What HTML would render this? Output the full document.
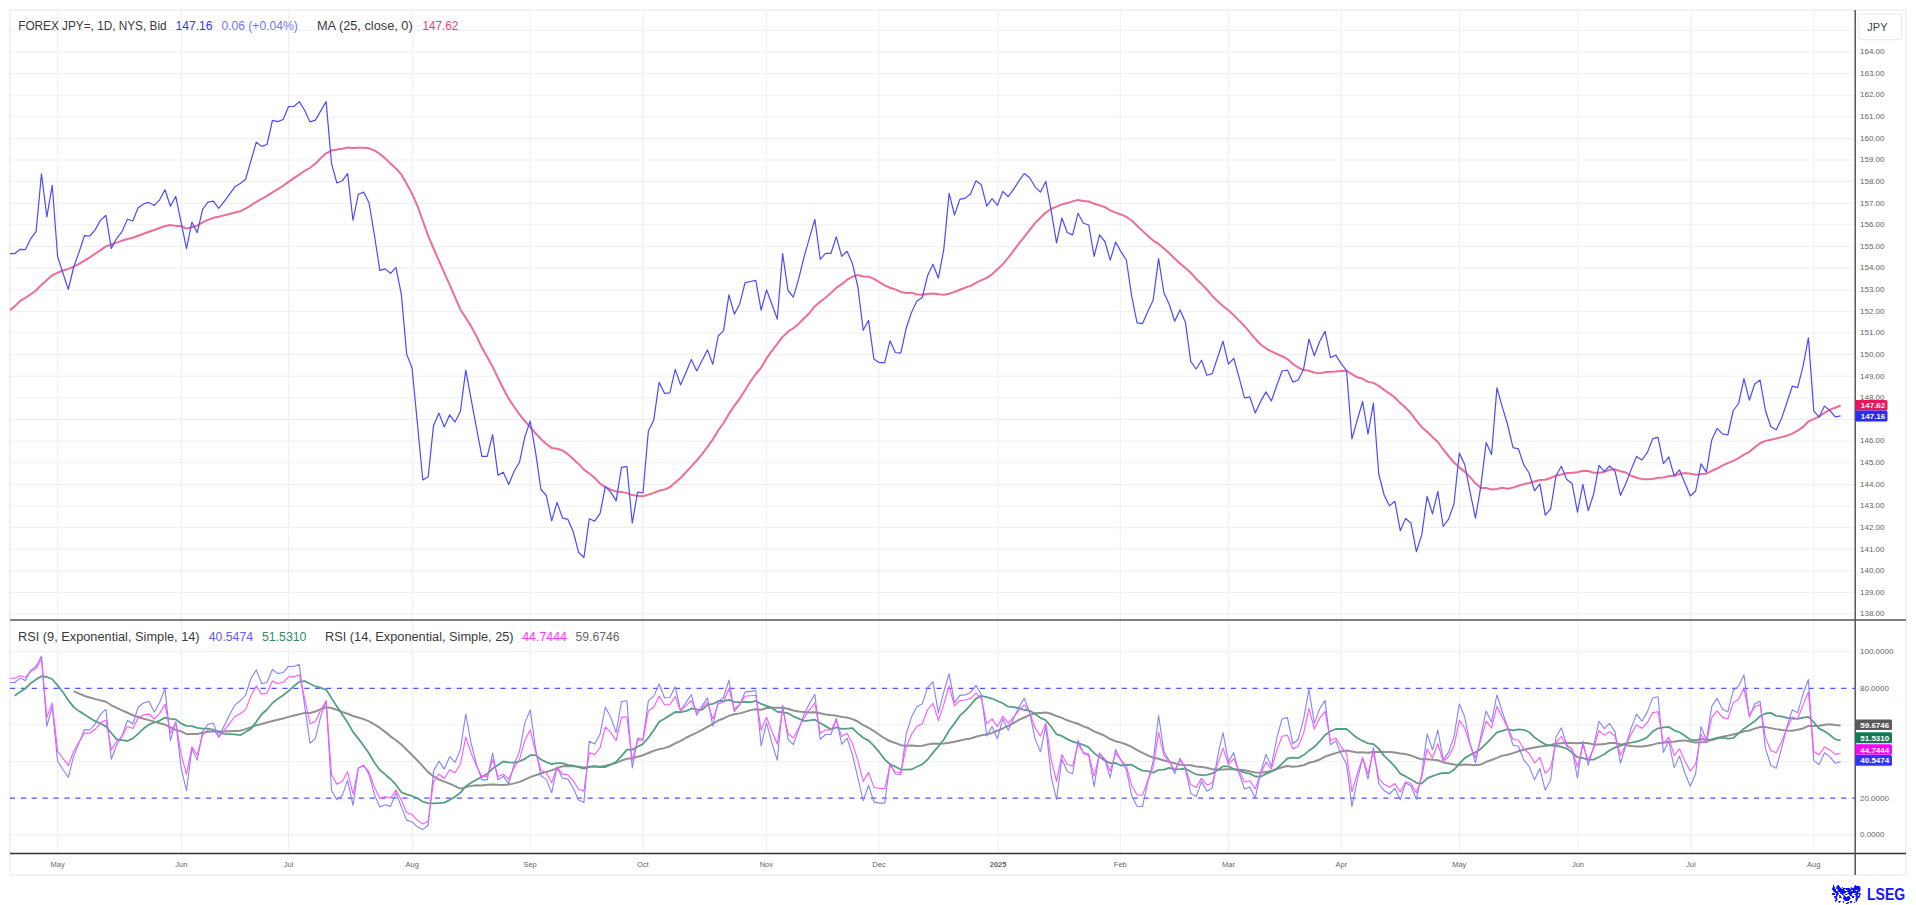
<!DOCTYPE html>
<html><head><meta charset="utf-8"><style>html,body{margin:0;padding:0;background:#fff;width:1916px;height:905px;overflow:hidden;position:relative}</style></head>
<body><svg width="1916" height="905" viewBox="0 0 1916 905" style="position:absolute;left:0;top:0"><rect x="10.1" y="10.1" width="1896" height="864.7" fill="none" stroke="#f1f1f1" stroke-width="1.8"/><defs><clipPath id="cp"><rect x="10" y="10" width="1845" height="843.5"/></clipPath></defs><path d="M10 614.1H1855 M10 592.5H1855 M10 570.9H1855 M10 549.2H1855 M10 527.6H1855 M10 506.0H1855 M10 484.4H1855 M10 462.7H1855 M10 441.1H1855 M10 419.5H1855 M10 397.9H1855 M10 376.2H1855 M10 354.6H1855 M10 333.0H1855 M10 311.4H1855 M10 289.8H1855 M10 268.1H1855 M10 246.5H1855 M10 224.9H1855 M10 203.3H1855 M10 181.6H1855 M10 160.0H1855 M10 138.4H1855 M10 116.8H1855 M10 95.1H1855 M10 73.5H1855 M10 51.9H1855 M10 30.3H1855 M10 651.7H1855 M10 688.3H1855 M10 724.9H1855 M10 761.6H1855 M10 798.2H1855 M10 834.8H1855 M57.6 10V853.5 M181.4 10V853.5 M288.6 10V853.5 M412.3 10V853.5 M530.1 10V853.5 M642.8 10V853.5 M766.3 10V853.5 M879.0 10V853.5 M998.1 10V853.5 M1120.3 10V853.5 M1228.5 10V853.5 M1341.3 10V853.5 M1459.3 10V853.5 M1578.0 10V853.5 M1690.8 10V853.5 M1813.8 10V853.5" stroke="#efefef" stroke-width="1" fill="none"/><path d="M10 688.3H1855" stroke="#5252ff" stroke-width="1.3" stroke-dasharray="5 5.9" fill="none"/><path d="M10 798.2H1855" stroke="#5252ff" stroke-width="1.3" stroke-dasharray="5 5.9" fill="none"/><g clip-path="url(#cp)"><polyline points="9.26,310.70 14.63,306.37 20.00,301.18 25.37,297.73 30.74,294.24 36.11,290.45 41.48,284.77 46.85,279.94 52.22,275.29 57.60,272.72 62.97,270.51 68.34,268.91 73.71,266.72 79.08,263.93 84.45,260.69 89.82,257.34 95.19,253.72 100.56,250.08 105.93,246.42 111.30,244.46 116.67,242.59 122.04,240.67 127.41,239.07 132.78,237.79 138.15,235.72 143.52,233.74 148.90,231.71 154.27,229.95 159.64,227.96 165.01,226.00 170.38,224.98 175.75,225.88 181.12,226.11 186.49,228.64 191.86,227.26 197.23,225.64 202.60,222.44 207.97,219.85 213.34,217.81 218.71,216.72 224.08,215.35 229.45,213.93 234.83,212.59 240.20,211.32 245.57,208.55 250.94,205.45 256.31,201.87 261.68,198.96 267.05,195.90 272.42,192.41 277.79,189.12 283.16,185.80 288.53,181.85 293.90,178.11 299.27,174.59 304.64,170.75 310.01,167.77 315.38,163.68 320.75,158.17 326.13,153.36 331.50,150.58 336.87,149.53 342.24,148.67 347.61,147.57 352.98,148.04 358.35,147.75 363.72,147.66 369.09,148.31 374.46,150.39 379.83,154.03 385.20,158.36 390.57,163.60 395.94,168.44 401.31,174.42 406.68,183.77 412.05,193.63 417.43,205.80 422.80,220.74 428.17,235.54 433.54,248.50 438.91,260.61 444.28,272.81 449.65,284.60 455.02,297.05 460.39,309.44 465.76,317.72 471.13,326.38 476.50,336.27 481.87,347.58 487.24,357.03 492.61,366.64 497.98,377.96 503.36,388.74 508.73,398.69 514.10,406.73 519.47,414.46 524.84,421.01 530.21,427.16 535.58,433.49 540.95,438.90 546.32,444.00 551.69,447.89 557.06,448.78 562.43,450.43 567.80,454.18 573.17,458.92 578.54,463.93 583.91,469.64 589.28,473.50 594.66,477.89 600.03,483.63 605.40,487.11 610.77,489.67 616.14,491.45 621.51,491.89 626.88,493.15 632.25,495.07 637.62,495.86 642.99,496.21 648.36,494.60 653.73,492.92 659.10,490.74 664.47,489.63 669.84,487.25 675.21,482.44 680.58,478.02 685.96,472.08 691.33,466.36 696.70,460.49 702.07,454.14 707.44,446.87 712.81,439.36 718.18,430.50 723.55,422.97 728.92,413.92 734.29,405.93 739.66,398.64 745.03,390.28 750.40,381.50 755.77,374.02 761.14,367.77 766.51,358.44 771.89,350.92 777.26,343.97 782.63,336.88 788.00,331.68 793.37,328.28 798.74,323.69 804.11,318.24 809.48,312.98 814.85,306.35 820.22,301.83 825.59,297.58 830.96,292.88 836.33,287.93 841.70,284.19 847.07,279.66 852.44,276.77 857.81,275.00 863.19,276.42 868.56,276.67 873.93,278.87 879.30,282.06 884.67,285.31 890.04,287.73 895.41,289.42 900.78,291.96 906.15,292.92 911.52,292.65 916.89,294.54 922.26,294.82 927.63,293.96 933.00,293.39 938.37,294.25 943.74,294.72 949.11,293.69 954.49,291.92 959.86,289.76 965.23,287.55 970.60,285.83 975.97,282.81 981.34,280.15 986.71,277.85 992.08,274.34 997.45,269.34 1002.82,264.18 1008.19,257.68 1013.56,250.75 1018.93,243.48 1024.30,236.78 1029.67,229.80 1035.04,223.14 1040.42,217.70 1045.79,212.46 1051.16,208.85 1056.53,206.66 1061.90,204.36 1067.27,203.09 1072.64,201.36 1078.01,199.90 1083.38,201.09 1088.75,201.49 1094.12,203.78 1099.49,205.25 1104.86,207.16 1110.23,210.33 1115.60,212.62 1120.97,214.45 1126.34,216.90 1131.72,220.54 1137.09,225.80 1142.46,230.88 1147.83,235.77 1153.20,240.54 1158.57,243.94 1163.94,248.55 1169.31,253.25 1174.68,258.42 1180.05,263.56 1185.42,268.02 1190.79,272.77 1196.16,278.81 1201.53,283.92 1206.90,289.53 1212.27,295.95 1217.64,301.31 1223.02,305.96 1228.39,310.27 1233.76,315.21 1239.13,320.65 1244.50,326.16 1249.87,332.35 1255.24,338.80 1260.61,344.46 1265.98,348.28 1271.35,351.40 1276.72,353.88 1282.09,356.26 1287.46,359.06 1292.83,364.00 1298.20,367.48 1303.57,370.07 1308.95,370.78 1314.32,372.62 1319.69,373.37 1325.06,372.16 1330.43,371.71 1335.80,371.50 1341.17,371.04 1346.54,370.92 1351.91,374.18 1357.28,377.33 1362.65,378.82 1368.02,381.86 1373.39,382.88 1378.76,385.92 1384.13,389.85 1389.50,393.56 1394.87,397.56 1400.25,403.11 1405.62,407.81 1410.99,413.32 1416.36,420.55 1421.73,427.15 1427.10,431.72 1432.47,437.08 1437.84,441.96 1443.21,449.46 1448.58,455.99 1453.95,462.50 1459.32,467.37 1464.69,471.64 1470.06,477.11 1475.43,483.29 1480.80,487.93 1486.17,488.08 1491.55,489.45 1496.92,488.91 1502.29,487.82 1507.66,488.69 1513.03,487.64 1518.40,485.79 1523.77,484.15 1529.14,483.02 1534.51,481.42 1539.88,480.04 1545.25,479.71 1550.62,478.00 1555.99,475.64 1561.36,474.43 1566.73,473.06 1572.10,472.74 1577.48,472.17 1582.85,470.78 1588.22,471.04 1593.59,472.69 1598.96,472.72 1604.33,471.91 1609.70,469.82 1615.07,469.22 1620.44,471.33 1625.81,472.50 1631.18,475.76 1636.55,477.75 1641.92,479.15 1647.29,479.34 1652.66,478.94 1658.03,477.84 1663.40,477.47 1668.78,476.11 1674.15,475.79 1679.52,473.98 1684.89,472.94 1690.26,473.75 1695.63,474.74 1701.00,474.11 1706.37,473.65 1711.74,470.76 1717.11,468.53 1722.48,465.46 1727.85,463.08 1733.22,460.89 1738.59,458.18 1743.96,454.68 1749.33,451.84 1754.70,447.38 1760.08,443.24 1765.45,440.88 1770.82,439.70 1776.19,438.49 1781.56,437.12 1786.93,435.67 1792.30,433.62 1797.67,430.58 1803.04,426.95 1808.41,421.43 1813.78,419.07 1819.15,416.43 1824.52,412.84 1829.89,409.62 1835.26,407.74 1840.63,405.49" fill="none" stroke="#ee6d98" stroke-width="2" stroke-linejoin="round"/><polyline points="9.26,253.70 14.63,253.70 20.00,249.30 25.37,249.70 30.74,238.70 36.11,231.60 41.48,173.80 46.85,216.90 52.22,185.30 57.60,256.40 62.97,273.20 68.34,289.40 73.71,267.00 79.08,252.00 84.45,235.70 89.82,236.00 95.19,229.80 100.56,220.10 105.93,215.30 111.30,248.40 116.67,238.30 122.04,231.60 127.41,219.20 132.78,221.00 138.15,207.70 143.52,203.90 148.90,202.40 154.27,205.40 159.64,199.80 165.01,189.70 170.38,206.30 175.75,196.30 181.12,222.45 186.49,248.60 191.86,222.00 197.23,232.70 202.60,209.30 207.97,202.20 213.34,201.20 218.71,208.40 224.08,201.60 229.45,194.30 234.83,186.80 240.20,183.40 245.57,179.30 250.94,160.70 256.31,142.20 261.68,146.40 267.05,144.50 272.42,120.40 277.79,121.60 283.16,119.50 288.53,106.50 293.90,106.50 299.27,101.60 304.64,110.30 310.01,121.90 315.38,120.10 320.75,110.90 326.13,101.60 331.50,163.30 336.87,183.00 342.24,180.80 347.61,173.60 352.98,220.20 358.35,194.30 363.72,192.10 369.09,203.00 374.46,235.50 379.83,270.30 385.20,268.90 390.57,273.30 395.94,267.30 401.31,294.10 406.68,354.10 412.05,368.00 417.43,423.70 422.80,480.00 428.17,476.70 433.54,425.40 438.91,413.10 444.28,427.00 449.65,414.80 455.02,422.10 460.39,411.50 465.76,370.20 471.13,399.40 476.50,428.10 481.87,456.40 487.24,456.40 492.61,434.70 497.98,475.10 503.36,472.30 508.73,484.40 514.10,471.20 519.47,462.30 524.84,436.90 530.21,421.00 535.58,452.40 540.95,489.50 546.32,495.50 551.69,520.80 557.06,502.40 562.43,517.80 567.80,519.30 573.17,531.50 578.54,552.20 583.91,557.50 589.28,518.80 594.66,521.20 600.03,513.70 605.40,486.40 610.77,492.10 616.14,500.90 621.51,467.30 626.88,466.30 632.25,523.10 637.62,492.10 642.99,493.00 648.36,431.00 653.73,420.30 659.10,382.30 664.47,393.30 669.84,392.90 675.21,369.40 680.58,384.90 685.96,372.40 691.33,359.40 696.70,371.00 702.07,360.40 707.44,349.90 712.81,364.40 718.18,336.00 723.55,330.60 728.92,294.80 734.29,314.10 739.66,304.20 745.03,282.90 750.40,281.50 755.77,280.30 761.14,310.10 766.51,289.80 771.89,304.20 777.26,319.10 782.63,253.70 788.00,290.50 793.37,297.10 798.74,278.60 804.11,256.70 809.48,237.80 814.85,219.30 820.22,259.30 825.59,253.30 830.96,253.30 836.33,236.80 841.70,256.30 847.07,251.30 852.44,263.60 857.81,286.50 863.19,330.30 868.56,320.30 873.93,359.10 879.30,362.70 884.67,362.70 890.04,340.80 895.41,352.50 900.78,353.10 906.15,328.30 911.52,312.40 916.89,301.00 922.26,297.50 927.63,275.60 933.00,264.20 938.37,278.20 943.74,249.70 949.11,193.40 954.49,215.00 959.86,199.30 965.23,198.10 970.60,193.80 975.97,180.80 981.34,184.80 986.71,206.10 992.08,198.70 997.45,205.30 1002.82,191.40 1008.19,196.70 1013.56,189.40 1018.93,180.80 1024.30,173.50 1029.67,177.80 1035.04,186.80 1040.42,192.20 1045.79,181.40 1051.16,210.70 1056.53,242.90 1061.90,218.00 1067.27,232.50 1072.64,234.90 1078.01,213.20 1083.38,223.20 1088.75,225.00 1094.12,256.40 1099.49,234.90 1104.86,241.50 1110.23,260.20 1115.60,242.10 1120.97,251.70 1126.34,260.00 1131.72,296.40 1137.09,322.90 1142.46,323.70 1147.83,311.50 1153.20,300.00 1158.57,258.60 1163.94,293.00 1169.31,304.40 1174.68,321.30 1180.05,309.90 1185.42,322.30 1190.79,361.60 1196.16,369.00 1201.53,360.30 1206.90,375.20 1212.27,373.60 1217.64,357.30 1223.02,341.20 1228.39,364.20 1233.76,358.30 1239.13,377.60 1244.50,397.90 1249.87,396.90 1255.24,413.00 1260.61,401.40 1265.98,391.90 1271.35,401.00 1276.72,385.50 1282.09,371.00 1287.46,370.00 1292.83,382.10 1298.20,380.00 1303.57,369.20 1308.95,339.20 1314.32,355.70 1319.69,341.20 1325.06,331.40 1330.43,357.70 1335.80,355.10 1341.17,363.60 1346.54,370.60 1351.91,438.80 1357.28,420.00 1362.65,401.50 1368.02,434.10 1373.39,403.20 1378.76,474.00 1384.13,495.00 1389.50,505.90 1394.87,501.30 1400.25,530.70 1405.62,518.50 1410.99,523.30 1416.36,551.70 1421.73,534.90 1427.10,496.40 1432.47,513.90 1437.84,491.40 1443.21,526.50 1448.58,519.10 1453.95,504.00 1459.32,453.00 1464.69,464.50 1470.06,491.80 1475.43,518.10 1480.80,486.60 1486.17,442.50 1491.55,454.40 1496.92,387.90 1502.29,406.80 1507.66,425.00 1513.03,447.70 1518.40,448.80 1523.77,464.90 1529.14,473.00 1534.51,490.90 1539.88,483.80 1545.25,515.20 1550.62,509.00 1555.99,475.80 1561.36,466.20 1566.73,479.60 1572.10,483.50 1577.48,512.10 1582.85,484.30 1588.22,510.60 1593.59,494.30 1598.96,465.30 1604.33,471.40 1609.70,466.00 1615.07,471.40 1620.44,495.40 1625.81,483.50 1631.18,469.60 1636.55,456.40 1641.92,460.00 1647.29,452.60 1652.66,438.70 1658.03,437.40 1663.40,463.70 1668.78,456.90 1674.15,475.80 1679.52,469.90 1684.89,483.10 1690.26,496.00 1695.63,491.00 1701.00,463.80 1706.37,472.10 1711.74,439.90 1717.11,428.40 1722.48,433.80 1727.85,435.00 1733.22,410.50 1738.59,403.50 1743.96,378.70 1749.33,400.20 1754.70,384.00 1760.08,380.10 1765.45,410.50 1770.82,426.80 1776.19,429.80 1781.56,418.40 1786.93,402.50 1792.30,386.20 1797.67,387.60 1803.04,366.10 1808.41,337.90 1813.78,410.90 1819.15,417.10 1824.52,406.10 1829.89,410.50 1835.26,416.90 1840.63,415.90" fill="none" stroke="#4b4bff" stroke-width="1.2" stroke-linejoin="round"/><polyline points="73.71,691.11 79.08,693.58 84.45,695.93 89.82,697.55 95.19,699.11 100.56,700.38 105.93,701.75 111.30,705.29 116.67,707.80 122.04,710.30 127.41,712.78 132.78,715.25 138.15,717.04 143.52,718.77 148.90,720.11 154.27,721.66 159.64,723.18 165.01,724.65 170.38,727.35 175.75,729.89 181.12,731.37 186.49,734.23 191.86,734.06 197.23,733.92 202.60,732.71 207.97,731.86 213.34,731.34 218.71,731.51 224.08,731.40 229.45,731.18 234.83,730.93 240.20,730.68 245.57,729.09 250.94,727.25 256.31,725.25 261.68,723.96 267.05,722.53 272.42,721.06 277.79,719.80 283.16,718.55 288.53,716.86 293.90,715.41 299.27,714.23 304.64,712.85 310.01,712.91 315.38,711.59 320.75,709.03 326.13,707.21 331.50,707.97 336.87,709.93 342.24,712.00 347.61,713.71 352.98,715.99 358.35,717.47 363.72,719.16 369.09,721.37 374.46,724.31 379.83,727.85 385.20,731.89 390.57,736.37 395.94,740.20 401.31,744.48 406.68,749.74 412.05,754.98 417.43,760.49 422.80,766.38 428.17,772.15 433.54,776.44 438.91,779.46 444.28,781.65 449.65,783.58 455.02,786.08 460.39,788.60 465.76,787.12 471.13,785.88 476.50,785.26 481.87,785.44 487.24,784.73 492.61,784.41 497.98,784.84 503.36,784.93 508.73,784.60 514.10,783.37 519.47,781.89 524.84,779.58 530.21,777.18 535.58,775.26 540.95,773.56 546.32,771.89 551.69,770.38 557.06,768.10 562.43,766.22 567.80,765.94 573.17,766.20 578.54,766.63 583.91,767.50 589.28,766.70 594.66,766.31 600.03,766.74 605.40,765.70 610.77,764.36 616.14,762.93 621.51,760.57 626.88,758.85 632.25,758.21 637.62,756.83 642.99,755.28 648.36,753.02 653.73,750.92 659.10,749.15 664.47,748.14 669.84,746.25 675.21,743.31 680.58,740.84 685.96,737.76 691.33,735.10 696.70,732.64 702.07,729.94 707.44,726.80 712.81,723.99 718.18,720.50 723.55,718.45 728.92,715.82 734.29,714.27 739.66,713.37 745.03,711.92 750.40,710.12 755.77,709.24 761.14,709.77 766.51,708.05 771.89,707.70 777.26,707.85 782.63,707.75 788.00,708.81 793.37,710.48 798.74,711.41 804.11,711.93 809.48,712.47 814.85,712.15 820.22,713.24 825.59,714.41 830.96,715.10 836.33,715.63 841.70,717.00 847.07,717.57 852.44,719.15 857.81,721.50 863.19,725.21 868.56,727.74 873.93,731.05 879.30,734.74 884.67,738.45 890.04,741.26 895.41,742.94 900.78,745.14 906.15,745.78 911.52,745.40 916.89,746.11 922.26,745.71 927.63,744.58 933.00,743.59 938.37,743.71 943.74,743.49 949.11,742.81 954.49,741.73 959.86,740.55 965.23,739.36 970.60,738.47 975.97,736.74 981.34,735.35 986.71,734.56 992.08,732.91 997.45,730.71 1002.82,728.47 1008.19,725.90 1013.56,723.04 1018.93,719.91 1024.30,717.49 1029.67,715.11 1035.04,713.33 1040.42,712.88 1045.79,712.43 1051.16,713.76 1056.53,716.07 1061.90,717.88 1067.27,720.32 1072.64,722.14 1078.01,723.73 1083.38,726.39 1088.75,728.31 1094.12,731.34 1099.49,733.50 1104.86,735.92 1110.23,739.04 1115.60,741.22 1120.97,742.65 1126.34,744.53 1131.72,746.88 1137.09,750.04 1142.46,752.93 1147.83,755.45 1153.20,757.72 1158.57,758.82 1163.94,760.53 1169.31,761.88 1174.68,763.24 1180.05,764.73 1185.42,765.04 1190.79,765.18 1196.16,766.49 1201.53,767.05 1206.90,767.81 1212.27,769.37 1217.64,769.83 1223.02,769.60 1228.39,769.13 1233.76,769.31 1239.13,769.81 1244.50,770.24 1249.87,771.36 1255.24,772.52 1260.61,772.83 1265.98,771.89 1271.35,770.85 1276.72,769.06 1282.09,767.31 1287.46,766.04 1292.83,766.70 1298.20,766.34 1303.57,765.22 1308.95,762.75 1314.32,761.50 1319.69,759.53 1325.06,756.59 1330.43,754.71 1335.80,753.10 1341.17,751.57 1346.54,750.40 1351.91,751.50 1357.28,752.52 1362.65,752.25 1368.02,752.86 1373.39,752.06 1378.76,751.93 1384.13,752.07 1389.50,752.01 1394.87,752.40 1400.25,753.60 1405.62,754.11 1410.99,755.43 1416.36,757.68 1421.73,759.36 1427.10,759.36 1432.47,759.83 1437.84,760.24 1443.21,762.36 1448.58,763.46 1453.95,764.59 1459.32,764.95 1464.69,764.45 1470.06,764.71 1475.43,765.15 1480.80,764.59 1486.17,761.76 1491.55,759.95 1496.92,757.88 1502.29,755.62 1507.66,754.67 1513.03,753.10 1518.40,751.33 1523.77,749.80 1529.14,748.60 1534.51,747.44 1539.88,746.46 1545.25,746.06 1550.62,745.07 1555.99,743.68 1561.36,743.19 1566.73,742.71 1572.10,742.92 1577.48,743.15 1582.85,742.69 1588.22,743.26 1593.59,744.39 1598.96,744.49 1604.33,744.12 1609.70,743.07 1615.07,742.93 1620.44,744.30 1625.81,744.98 1631.18,746.09 1636.55,746.39 1641.92,746.42 1647.29,745.75 1652.66,744.65 1658.03,743.16 1663.40,742.77 1668.78,741.73 1674.15,741.65 1679.52,740.66 1684.89,740.38 1690.26,741.52 1695.63,742.62 1701.00,742.14 1706.37,741.90 1711.74,739.92 1717.11,738.55 1722.48,736.82 1727.85,735.64 1733.22,734.53 1738.59,733.09 1743.96,731.36 1749.33,730.53 1754.70,728.59 1760.08,726.97 1765.45,727.11 1770.82,728.14 1776.19,729.12 1781.56,729.89 1786.93,730.52 1792.30,730.73 1797.67,729.73 1803.04,728.44 1808.41,725.92 1813.78,726.02 1819.15,725.77 1824.52,724.82 1829.89,724.25 1835.26,725.06 1840.63,725.48" fill="none" stroke="#919191" stroke-width="2" stroke-linejoin="round"/><polyline points="14.63,695.64 20.00,692.06 25.37,688.51 30.74,683.16 36.11,679.39 41.48,676.15 46.85,676.99 52.22,679.25 57.60,685.42 62.97,692.29 68.34,700.37 73.71,707.12 79.08,711.13 84.45,714.50 89.82,717.90 95.19,721.16 100.56,723.56 105.93,726.34 111.30,732.98 116.67,739.33 122.04,740.02 127.41,741.00 132.78,738.34 138.15,733.90 143.52,728.60 148.90,724.69 154.27,722.51 159.64,720.57 165.01,717.63 170.38,718.83 175.75,719.39 181.12,723.57 186.49,725.81 191.86,726.08 197.23,727.81 202.60,728.62 207.97,728.63 213.34,729.76 218.71,732.18 224.08,733.96 229.45,734.17 234.83,734.36 240.20,735.20 245.57,731.96 250.94,728.86 256.31,721.85 261.68,714.22 267.05,709.46 272.42,702.99 277.79,698.86 283.16,695.16 288.53,691.12 293.90,686.09 299.27,681.68 304.64,681.02 310.01,683.74 315.38,686.44 320.75,687.94 326.13,689.53 331.50,698.13 336.87,706.42 342.24,714.50 347.61,722.42 352.98,731.83 358.35,738.67 363.72,745.72 369.09,753.45 374.46,762.76 379.83,769.98 385.20,774.37 390.57,779.23 395.94,784.68 401.31,792.25 406.68,794.38 412.05,795.97 417.43,798.21 422.80,801.71 428.17,803.14 433.54,803.36 438.91,803.06 444.28,802.67 449.65,799.96 455.02,796.77 460.39,792.82 465.76,786.22 471.13,782.69 476.50,779.67 481.87,776.79 487.24,773.79 492.61,768.53 497.98,764.99 503.36,761.49 508.73,762.38 514.10,762.59 519.47,761.32 524.84,758.91 530.21,755.15 535.58,755.10 540.95,759.52 546.32,762.09 551.69,764.11 557.06,763.22 562.43,763.09 567.80,764.95 573.17,765.54 578.54,767.23 583.91,768.56 589.28,766.93 594.66,766.40 600.03,767.21 605.40,767.02 610.77,764.77 616.14,761.69 621.51,756.12 626.88,749.56 632.25,749.59 637.62,746.76 642.99,743.91 648.36,737.66 653.73,730.26 659.10,721.78 664.47,718.68 669.84,715.37 675.21,711.99 680.58,712.24 685.96,711.18 691.33,708.46 696.70,709.45 702.07,709.83 707.44,704.82 712.81,703.95 718.18,701.24 723.55,701.01 728.92,699.85 734.29,701.83 739.66,702.33 745.03,701.94 750.40,702.26 755.77,700.83 761.14,703.93 766.51,705.93 771.89,707.91 777.26,711.77 782.63,712.28 788.00,713.21 793.37,716.31 798.74,718.59 804.11,721.02 809.48,720.44 814.85,719.69 820.22,723.08 825.59,726.15 830.96,729.29 836.33,727.31 841.70,728.87 847.07,728.54 852.44,728.15 857.81,733.33 863.19,737.73 868.56,740.64 873.93,745.82 879.30,752.17 884.67,759.29 890.04,764.22 895.41,766.69 900.78,769.56 906.15,769.55 911.52,769.46 916.89,766.78 922.26,764.31 927.63,759.52 933.00,752.67 938.37,746.39 943.74,739.73 949.11,730.56 954.49,723.38 959.86,715.69 965.23,710.79 970.60,704.96 975.97,698.58 981.34,695.76 986.71,697.11 992.08,698.52 997.45,701.02 1002.82,703.25 1008.19,706.71 1013.56,707.14 1018.93,708.22 1024.30,709.99 1029.67,710.70 1035.04,713.78 1040.42,717.85 1045.79,720.27 1051.16,726.79 1056.53,734.27 1061.90,735.90 1067.27,739.12 1072.64,741.61 1078.01,743.15 1083.38,744.79 1088.75,747.42 1094.12,753.11 1099.49,756.99 1104.86,760.38 1110.23,763.18 1115.60,763.02 1120.97,765.48 1126.34,764.98 1131.72,764.72 1137.09,768.10 1142.46,770.60 1147.83,771.18 1153.20,772.66 1158.57,769.97 1163.94,769.69 1169.31,767.84 1174.68,769.31 1180.05,769.18 1185.42,768.58 1190.79,771.70 1196.16,774.28 1201.53,775.12 1206.90,774.80 1212.27,773.48 1217.64,769.88 1223.02,766.37 1228.39,766.42 1233.76,769.07 1239.13,770.65 1244.50,772.66 1249.87,773.62 1255.24,776.48 1260.61,776.71 1265.98,773.92 1271.35,771.78 1276.72,768.69 1282.09,763.53 1287.46,758.51 1292.83,757.63 1298.20,758.12 1303.57,755.09 1308.95,750.58 1314.32,746.99 1319.69,741.26 1325.06,735.08 1330.43,731.26 1335.80,729.02 1341.17,729.00 1346.54,728.82 1351.91,733.70 1357.28,738.07 1362.65,740.93 1368.02,743.45 1373.39,744.03 1378.76,748.62 1384.13,755.84 1389.50,760.89 1394.87,766.58 1400.25,773.67 1405.62,776.40 1410.99,779.59 1416.36,782.84 1421.73,783.56 1427.10,778.36 1432.47,776.20 1437.84,774.22 1443.21,772.83 1448.58,773.16 1453.95,769.82 1459.32,763.63 1464.69,758.12 1470.06,754.92 1475.43,752.30 1480.80,748.95 1486.17,743.60 1491.55,738.08 1496.92,732.41 1502.29,730.83 1507.66,729.23 1513.03,730.32 1518.40,729.37 1523.77,729.92 1529.14,732.02 1534.51,737.44 1539.88,741.13 1545.25,744.47 1550.62,745.68 1555.99,745.75 1561.36,746.96 1566.73,748.57 1572.10,752.49 1577.48,757.22 1582.85,758.23 1588.22,759.66 1593.59,759.70 1598.96,756.94 1604.33,754.24 1609.70,750.21 1615.07,747.61 1620.44,745.68 1625.81,743.23 1631.18,742.58 1636.55,741.60 1641.92,739.92 1647.29,737.23 1652.66,731.51 1658.03,728.30 1663.40,727.38 1668.78,726.96 1674.15,730.28 1679.52,732.23 1684.89,735.79 1690.26,739.65 1695.63,740.41 1701.00,739.04 1706.37,739.93 1711.74,739.38 1717.11,737.75 1722.48,737.54 1727.85,738.54 1733.22,738.10 1738.59,733.37 1743.96,728.65 1749.33,725.04 1754.70,721.33 1760.08,716.18 1765.45,713.49 1770.82,712.88 1776.19,715.85 1781.56,716.44 1786.93,717.89 1792.30,718.71 1797.67,718.97 1803.04,717.68 1808.41,716.90 1813.78,722.22 1819.15,728.63 1824.52,731.18 1829.89,734.95 1835.26,739.39 1840.63,740.31" fill="none" stroke="#53a084" stroke-width="1.8" stroke-linejoin="round"/><polyline points="9.26,682.46 14.63,682.46 20.00,678.09 25.37,680.58 30.74,670.38 36.11,666.23 41.48,656.16 46.85,726.27 52.22,706.54 57.60,761.26 62.97,769.49 68.34,777.25 73.71,755.85 79.08,742.85 84.45,729.64 89.82,729.99 95.19,723.79 100.56,714.14 105.93,709.36 111.30,759.21 116.67,745.06 122.04,735.87 127.41,720.26 132.78,723.99 138.15,707.28 143.52,703.04 148.90,701.18 154.27,712.29 159.64,702.44 165.01,688.84 170.38,740.68 175.75,721.90 181.12,767.99 186.49,790.56 191.86,748.83 197.23,760.12 202.60,731.49 207.97,724.22 213.34,723.08 218.71,736.97 224.08,726.06 229.45,715.16 234.83,705.10 240.20,700.71 245.57,695.29 250.94,678.50 256.31,669.83 261.68,683.71 267.05,682.25 272.42,669.46 277.79,673.66 283.16,672.51 288.53,666.48 293.90,666.48 299.27,664.33 304.64,705.97 310.01,743.24 315.38,738.38 320.75,716.41 326.13,700.71 331.50,790.28 336.87,799.65 342.24,795.42 347.61,780.40 352.98,805.33 358.35,768.23 363.72,765.32 369.09,774.63 374.46,794.68 379.83,807.05 385.20,804.68 390.57,806.39 395.94,792.77 401.31,806.62 406.68,820.14 412.05,821.93 417.43,826.81 422.80,829.40 428.17,825.28 433.54,771.37 438.91,761.18 444.28,769.08 449.65,756.71 455.02,762.42 460.39,749.45 465.76,713.95 471.13,743.31 476.50,764.35 481.87,779.90 487.24,779.90 492.61,753.08 497.98,779.84 503.36,776.31 508.73,783.89 514.10,764.03 519.47,751.40 524.84,722.86 530.21,709.84 535.58,748.72 540.95,775.83 546.32,779.35 551.69,792.65 557.06,767.42 562.43,778.05 567.80,779.12 573.17,788.07 578.54,799.95 583.91,802.57 589.28,741.14 594.66,744.01 600.03,734.15 605.40,707.19 610.77,717.23 616.14,732.72 621.51,701.44 626.88,700.74 632.25,767.94 637.62,738.32 642.99,739.20 648.36,700.61 653.73,696.36 659.10,683.93 664.47,697.73 669.84,697.54 675.21,686.85 680.58,710.71 685.96,702.46 691.33,694.65 696.70,715.18 702.07,706.08 707.44,697.88 712.81,726.15 718.18,701.15 723.55,697.50 728.92,680.10 734.29,711.63 739.66,704.70 745.03,692.14 750.40,691.36 755.77,690.57 761.14,745.92 766.51,722.71 771.89,742.80 777.26,760.12 782.63,705.04 788.00,739.20 793.37,744.53 798.74,729.36 804.11,714.24 809.48,703.39 814.85,694.34 820.22,739.47 825.59,734.48 830.96,734.48 836.33,718.23 841.70,744.43 847.07,738.20 852.44,754.74 857.81,777.56 863.19,800.75 868.56,785.30 873.93,801.86 879.30,803.09 884.67,803.09 890.04,763.43 895.41,774.05 900.78,774.63 906.15,734.28 911.52,717.09 916.89,706.80 922.26,703.66 927.63,687.66 933.00,681.65 938.37,712.90 943.74,691.98 949.11,673.55 954.49,702.57 959.86,695.42 965.23,694.84 970.60,692.42 975.97,685.31 981.34,694.72 986.71,736.09 992.08,726.50 997.45,738.68 1002.82,718.81 1008.19,730.20 1013.56,718.85 1018.93,707.06 1024.30,698.36 1029.67,712.51 1035.04,738.59 1040.42,751.86 1045.79,726.18 1051.16,776.70 1056.53,799.35 1061.90,758.94 1067.27,771.54 1072.64,773.64 1078.01,740.35 1083.38,753.19 1088.75,755.61 1094.12,786.72 1099.49,752.74 1104.86,759.97 1110.23,777.76 1115.60,749.60 1120.97,760.59 1126.34,769.67 1131.72,795.82 1137.09,806.25 1142.46,806.53 1147.83,781.75 1153.20,761.12 1158.57,715.54 1163.94,751.55 1169.31,760.81 1174.68,773.45 1180.05,758.12 1185.42,769.33 1190.79,793.34 1196.16,796.63 1201.53,781.48 1206.90,791.23 1212.27,787.89 1217.64,756.05 1223.02,732.67 1228.39,761.85 1233.76,752.61 1239.13,773.61 1244.50,788.99 1249.87,786.90 1255.24,798.15 1260.61,772.58 1265.98,754.26 1271.35,766.63 1276.72,738.30 1282.09,718.93 1287.46,717.65 1292.83,743.72 1298.20,739.48 1303.57,719.43 1308.95,689.47 1314.32,723.36 1319.69,708.75 1325.06,700.36 1330.43,744.75 1335.80,741.11 1341.17,754.04 1346.54,764.10 1351.91,806.69 1357.28,780.05 1362.65,757.65 1368.02,779.07 1373.39,747.54 1378.76,783.74 1384.13,790.55 1389.50,794.07 1394.87,788.33 1400.25,799.65 1405.62,783.06 1410.99,785.76 1416.36,799.44 1421.73,774.18 1427.10,733.92 1432.47,749.80 1437.84,729.99 1443.21,759.60 1448.58,752.12 1453.95,737.04 1459.32,703.93 1464.69,716.83 1470.06,743.53 1475.43,763.08 1480.80,736.04 1486.17,710.89 1491.55,722.21 1496.92,694.74 1502.29,711.77 1507.66,727.48 1513.03,745.29 1518.40,746.18 1523.77,759.84 1529.14,766.46 1534.51,779.86 1539.88,768.51 1545.25,790.31 1550.62,779.90 1555.99,737.02 1561.36,727.82 1566.73,744.76 1572.10,749.67 1577.48,778.02 1582.85,741.63 1588.22,765.31 1593.59,746.62 1598.96,721.20 1604.33,728.67 1609.70,723.45 1615.07,732.15 1620.44,763.24 1625.81,745.61 1631.18,728.01 1636.55,714.11 1641.92,721.17 1647.29,712.10 1652.66,697.93 1658.03,696.70 1663.40,752.35 1668.78,740.75 1674.15,767.64 1679.52,756.00 1684.89,773.27 1690.26,786.27 1695.63,773.78 1701.00,726.54 1706.37,740.46 1711.74,706.37 1717.11,698.36 1722.48,709.16 1727.85,711.86 1733.22,690.54 1738.59,686.18 1743.96,674.72 1749.33,717.10 1754.70,704.05 1760.08,701.08 1765.45,748.64 1770.82,765.23 1776.19,768.18 1781.56,748.65 1786.93,726.72 1792.30,709.86 1797.67,712.80 1803.04,693.78 1808.41,679.56 1813.78,760.65 1819.15,764.55 1824.52,752.77 1829.89,756.84 1835.26,763.29 1840.63,761.51" fill="none" stroke="#8383ff" stroke-width="1.1" stroke-linejoin="round"/><polyline points="9.26,678.25 14.63,678.25 20.00,675.80 25.37,677.32 30.74,671.35 36.11,668.44 41.48,658.71 46.85,717.43 52.22,702.97 57.60,750.90 62.97,758.46 68.34,765.43 73.71,750.98 79.08,742.11 84.45,733.00 89.82,733.22 95.19,729.27 100.56,723.03 105.93,719.90 111.30,749.65 116.67,741.46 122.04,736.07 127.41,726.47 132.78,728.50 138.15,717.94 143.52,715.07 148.90,713.84 154.27,719.01 159.64,713.34 165.01,704.13 170.38,732.97 175.75,722.16 181.12,754.42 186.49,774.38 191.86,746.69 197.23,755.05 202.60,735.09 207.97,729.81 213.34,729.02 218.71,737.27 224.08,730.56 229.45,723.59 234.83,716.76 240.20,713.69 245.57,709.86 250.94,695.65 256.31,686.03 261.68,694.10 267.05,692.93 272.42,681.09 277.79,683.58 283.16,682.57 288.53,676.86 293.90,676.86 299.27,674.73 304.64,698.44 310.01,723.75 315.38,721.43 320.75,710.31 326.13,701.12 331.50,774.05 336.87,784.21 342.24,781.42 347.61,771.84 352.98,794.21 358.35,767.76 363.72,765.69 369.09,772.09 374.46,787.25 379.83,798.19 385.20,796.64 390.57,798.05 395.94,790.02 401.31,799.89 406.68,812.56 412.05,814.52 417.43,820.41 422.80,824.05 428.17,821.15 433.54,781.89 438.91,774.04 444.28,778.47 449.65,769.76 455.02,772.71 460.39,764.17 465.76,737.10 471.13,753.14 476.50,765.95 481.87,776.38 487.24,776.38 492.61,759.68 497.98,776.47 503.36,774.28 508.73,779.15 514.10,767.42 519.47,759.69 524.84,740.23 530.21,730.03 535.58,751.81 540.95,770.14 546.32,772.70 551.69,782.73 557.06,767.09 562.43,774.09 567.80,774.79 573.17,780.62 578.54,789.29 583.91,791.34 589.28,752.88 594.66,754.46 600.03,747.76 605.40,727.12 610.77,732.42 616.14,740.68 621.51,717.36 626.88,716.77 632.25,760.31 637.62,739.84 642.99,740.43 648.36,710.90 653.73,707.22 659.10,695.95 664.47,704.77 669.84,704.63 675.21,696.55 680.58,710.94 685.96,705.71 691.33,700.53 696.70,712.59 702.07,707.32 707.44,702.32 712.81,718.93 718.18,704.09 723.55,701.67 728.92,688.62 734.29,709.04 739.66,704.66 745.03,696.22 750.40,695.69 755.77,695.18 761.14,730.18 766.51,717.26 771.89,731.21 777.26,744.08 782.63,708.41 788.00,733.74 793.37,737.77 798.74,727.95 804.11,717.67 809.48,709.86 814.85,703.00 820.22,732.96 825.59,729.88 830.96,729.88 836.33,720.37 841.70,736.66 847.07,733.22 852.44,743.68 857.81,760.18 863.19,781.48 868.56,772.40 873.93,787.28 879.30,788.47 884.67,788.47 890.04,765.52 895.41,772.01 900.78,772.36 906.15,747.23 911.52,734.47 916.89,726.24 922.26,723.70 927.63,709.50 933.00,703.38 938.37,720.53 943.74,704.38 949.11,686.02 954.49,705.91 959.86,700.44 965.23,700.01 970.60,698.32 975.97,693.22 981.34,698.51 986.71,723.93 992.08,718.91 997.45,726.65 1002.82,716.18 1008.19,723.05 1013.56,717.04 1018.93,710.32 1024.30,704.96 1029.67,712.56 1035.04,727.70 1040.42,736.15 1045.79,723.14 1051.16,759.48 1056.53,781.48 1061.90,754.65 1067.27,764.42 1072.64,766.03 1078.01,744.08 1083.38,752.49 1088.75,754.04 1094.12,776.27 1099.49,754.02 1104.86,758.82 1110.23,771.20 1115.60,752.81 1120.97,759.87 1126.34,765.79 1131.72,785.51 1137.09,795.05 1142.46,795.32 1147.83,780.18 1153.20,766.96 1158.57,732.45 1163.94,755.28 1169.31,761.53 1174.68,770.21 1180.05,760.20 1185.42,767.35 1190.79,784.85 1196.16,787.52 1201.53,778.35 1206.90,784.99 1212.27,783.08 1217.64,764.09 1223.02,748.19 1228.39,764.57 1233.76,758.59 1239.13,771.29 1244.50,781.97 1249.87,780.74 1255.24,788.83 1260.61,773.66 1265.98,762.11 1271.35,769.00 1276.72,750.59 1282.09,736.27 1287.46,735.30 1292.83,748.96 1298.20,746.36 1303.57,733.39 1308.95,708.46 1314.32,728.96 1319.69,718.05 1325.06,711.46 1330.43,740.45 1335.80,738.13 1341.17,746.80 1346.54,753.71 1351.91,791.73 1357.28,773.56 1362.65,757.91 1368.02,773.83 1373.39,751.28 1378.76,778.68 1384.13,784.34 1389.50,787.22 1394.87,783.56 1400.25,792.07 1405.62,781.73 1410.99,783.44 1416.36,792.74 1421.73,777.23 1427.10,748.96 1432.47,758.03 1437.84,743.62 1443.21,761.50 1448.58,756.50 1453.95,746.36 1459.32,720.43 1464.69,728.04 1470.06,744.49 1475.43,757.70 1480.80,739.88 1486.17,721.04 1491.55,728.14 1496.92,706.21 1502.29,717.27 1507.66,727.52 1513.03,739.48 1518.40,740.07 1523.77,749.04 1529.14,753.51 1534.51,763.04 1539.88,757.37 1545.25,773.35 1550.62,767.89 1555.99,742.65 1561.36,736.51 1566.73,746.15 1572.10,748.98 1577.48,767.23 1582.85,744.98 1588.22,760.58 1593.59,748.55 1598.96,730.65 1604.33,735.12 1609.70,731.62 1615.07,736.39 1620.44,755.25 1625.81,745.02 1631.18,734.05 1636.55,724.65 1641.92,728.47 1647.29,722.64 1652.66,712.61 1658.03,711.70 1663.40,743.66 1668.78,737.05 1674.15,755.37 1679.52,748.81 1684.89,760.88 1690.26,770.98 1695.63,764.11 1701.00,734.27 1706.37,742.86 1711.74,717.63 1717.11,710.88 1722.48,717.40 1727.85,718.96 1733.22,702.92 1738.59,699.18 1743.96,688.28 1749.33,715.65 1754.70,706.71 1760.08,704.66 1765.45,737.39 1770.82,750.50 1776.19,752.84 1781.56,741.86 1786.93,728.44 1792.30,716.95 1797.67,718.68 1803.04,704.90 1808.41,692.27 1813.78,751.41 1819.15,754.66 1824.52,747.04 1829.89,749.94 1835.26,754.40 1840.63,753.44" fill="none" stroke="#ff55ff" stroke-width="1.1" stroke-linejoin="round"/></g><path d="M10 620H1906" stroke="#555" stroke-width="1.5"/><path d="M10 853.5H1906" stroke="#333" stroke-width="1.5"/><path d="M1855.2 10V875" stroke="#555" stroke-width="1.5"/><g font-family='"Liberation Sans", sans-serif' font-size="8" fill="#666"><text x="1860" y="616.4">138.00</text><text x="1860" y="594.8">139.00</text><text x="1860" y="573.2">140.00</text><text x="1860" y="551.5">141.00</text><text x="1860" y="529.9">142.00</text><text x="1860" y="508.3">143.00</text><text x="1860" y="486.7">144.00</text><text x="1860" y="465.0">145.00</text><text x="1860" y="443.4">146.00</text><text x="1860" y="400.2">148.00</text><text x="1860" y="378.5">149.00</text><text x="1860" y="356.9">150.00</text><text x="1860" y="335.3">151.00</text><text x="1860" y="313.7">152.00</text><text x="1860" y="292.1">153.00</text><text x="1860" y="270.4">154.00</text><text x="1860" y="248.8">155.00</text><text x="1860" y="227.2">156.00</text><text x="1860" y="205.6">157.00</text><text x="1860" y="183.9">158.00</text><text x="1860" y="162.3">159.00</text><text x="1860" y="140.7">160.00</text><text x="1860" y="119.1">161.00</text><text x="1860" y="97.4">162.00</text><text x="1860" y="75.8">163.00</text><text x="1860" y="54.2">164.00</text><text x="1860" y="654.0">100.0000</text><text x="1860" y="690.6">80.0000</text><text x="1860" y="800.5">20.0000</text><text x="1860" y="837.1">0.0000</text></g><g font-family='"Liberation Sans", sans-serif' font-size="7.5" fill="#666"><text x="57.6" y="867" text-anchor="middle" font-weight="normal">May</text><text x="181.4" y="867" text-anchor="middle" font-weight="normal">Jun</text><text x="288.6" y="867" text-anchor="middle" font-weight="normal">Jul</text><text x="412.3" y="867" text-anchor="middle" font-weight="normal">Aug</text><text x="530.1" y="867" text-anchor="middle" font-weight="normal">Sep</text><text x="642.8" y="867" text-anchor="middle" font-weight="normal">Oct</text><text x="766.3" y="867" text-anchor="middle" font-weight="normal">Nov</text><text x="879.0" y="867" text-anchor="middle" font-weight="normal">Dec</text><text x="998.1" y="867" text-anchor="middle" font-weight="bold">2025</text><text x="1120.3" y="867" text-anchor="middle" font-weight="normal">Feb</text><text x="1228.5" y="867" text-anchor="middle" font-weight="normal">Mar</text><text x="1341.3" y="867" text-anchor="middle" font-weight="normal">Apr</text><text x="1459.3" y="867" text-anchor="middle" font-weight="normal">May</text><text x="1578.0" y="867" text-anchor="middle" font-weight="normal">Jun</text><text x="1690.8" y="867" text-anchor="middle" font-weight="normal">Jul</text><text x="1813.8" y="867" text-anchor="middle" font-weight="normal">Aug</text></g><rect x="1858.7" y="13.9" width="43" height="25.8" rx="3" fill="#fff" stroke="#eeeeee" stroke-width="1.2"/><text x="1877.4" y="30.9" text-anchor="middle" font-family='"Liberation Sans", sans-serif' font-size="11" fill="#444">JPY</text><path d="M1855.5 400.0H1886a1.5 1.5 0 0 1 1.5 1.5V409.1a1.5 1.5 0 0 1 -1.5 1.5H1855.5Z" fill="#e8175d"/><text x="1860.8" y="408.3" font-family='"Liberation Sans", sans-serif' font-size="8" font-weight="bold" fill="#fff">147.62</text><path d="M1855.5 410.6H1886a1.5 1.5 0 0 1 1.5 1.5V420.0a1.5 1.5 0 0 1 -1.5 1.5H1855.5Z" fill="#2a2aff"/><text x="1860.8" y="419.1" font-family='"Liberation Sans", sans-serif' font-size="8" font-weight="bold" fill="#fff">147.16</text><path d="M1855.5 719.6H1890.5a1.5 1.5 0 0 1 1.5 1.5V728.4a1.5 1.5 0 0 1 -1.5 1.5H1855.5Z" fill="#5a5a5a"/><text x="1860.3" y="727.8" font-family='"Liberation Sans", sans-serif' font-size="8" font-weight="bold" fill="#fff">59.6746</text><path d="M1855.5 732.3H1890.5a1.5 1.5 0 0 1 1.5 1.5V741.7a1.5 1.5 0 0 1 -1.5 1.5H1855.5Z" fill="#137a55"/><text x="1860.3" y="740.8" font-family='"Liberation Sans", sans-serif' font-size="8" font-weight="bold" fill="#fff">51.5310</text><path d="M1855.5 744.2H1890.5a1.5 1.5 0 0 1 1.5 1.5V753.3a1.5 1.5 0 0 1 -1.5 1.5H1855.5Z" fill="#ff00ff"/><text x="1860.3" y="752.5" font-family='"Liberation Sans", sans-serif' font-size="8" font-weight="bold" fill="#fff">44.7444</text><path d="M1855.5 755.1H1890.5a1.5 1.5 0 0 1 1.5 1.5V764.2a1.5 1.5 0 0 1 -1.5 1.5H1855.5Z" fill="#3333ff"/><text x="1860.3" y="763.4" font-family='"Liberation Sans", sans-serif' font-size="8" font-weight="bold" fill="#fff">40.5474</text><text x="18.2" y="29.6" font-family='"Liberation Sans", sans-serif' font-size="12" fill="#3a3a3a" textLength="148.4" lengthAdjust="spacingAndGlyphs">FOREX JPY=, 1D, NYS, Bid</text><text x="175.4" y="29.6" font-family='"Liberation Sans", sans-serif' font-size="12" fill="#3838f0" textLength="37.2" lengthAdjust="spacingAndGlyphs">147.16</text><text x="221.4" y="29.6" font-family='"Liberation Sans", sans-serif' font-size="12" fill="#7373ff" textLength="76.4" lengthAdjust="spacingAndGlyphs">0.06 (+0.04%)</text><text x="316.9" y="29.6" font-family='"Liberation Sans", sans-serif' font-size="12" fill="#3a3a3a" textLength="95.8" lengthAdjust="spacingAndGlyphs">MA (25, close, 0)</text><text x="422.4" y="29.6" font-family='"Liberation Sans", sans-serif' font-size="12" fill="#ee3d7d" textLength="36.0" lengthAdjust="spacingAndGlyphs">147.62</text><text x="18.0" y="640.5" font-family='"Liberation Sans", sans-serif' font-size="12" fill="#3a3a3a" textLength="181.6" lengthAdjust="spacingAndGlyphs">RSI (9, Exponential, Simple, 14)</text><text x="208.8" y="640.5" font-family='"Liberation Sans", sans-serif' font-size="12" fill="#5c5cff" textLength="44.2" lengthAdjust="spacingAndGlyphs">40.5474</text><text x="261.9" y="640.5" font-family='"Liberation Sans", sans-serif' font-size="12" fill="#2e8b63" textLength="44.6" lengthAdjust="spacingAndGlyphs">51.5310</text><text x="325.0" y="640.5" font-family='"Liberation Sans", sans-serif' font-size="12" fill="#3a3a3a" textLength="188.6" lengthAdjust="spacingAndGlyphs">RSI (14, Exponential, Simple, 25)</text><text x="522.2" y="640.5" font-family='"Liberation Sans", sans-serif' font-size="12" fill="#ff33ff" textLength="44.8" lengthAdjust="spacingAndGlyphs">44.7444</text><text x="575.6" y="640.5" font-family='"Liberation Sans", sans-serif' font-size="12" fill="#666" textLength="43.9" lengthAdjust="spacingAndGlyphs">59.6746</text><text x="1867" y="900" font-family='"Liberation Sans", sans-serif' font-size="15.8" font-weight="bold" fill="#1515ff" textLength="38.2" lengthAdjust="spacingAndGlyphs">LSEG</text><g style="filter:blur(0.35px)"><path d="M1832.97 885h1.10v1h-1.10zM1837.39 885h1.66v1h-1.66zM1855.07 885h1.10v1h-1.10zM1832.97 886h1.38v1h-1.38zM1836.56 886h3.04v1h-3.04zM1854.24 886h5.52v1h-5.52zM1832.70 887h2.21v1h-2.21zM1836.29 887h4.14v1h-4.14zM1842.09 887h0.83v1h-0.83zM1850.93 887h0.83v1h-0.83zM1853.69 887h6.63v1h-6.63zM1832.14 888h3.04v1h-3.04zM1836.29 888h5.52v1h-5.52zM1842.92 888h7.18v1h-7.18zM1850.93 888h9.67v1h-9.67zM1831.87 889h4.14v1h-4.14zM1837.39 889h7.18v1h-7.18zM1845.96 889h14.64v1h-14.64zM1832.97 890h3.04v1h-3.04zM1837.94 890h6.91v1h-6.91zM1847.34 890h3.87v1h-3.87zM1852.86 890h2.76v1h-2.76zM1857.28 890h3.04v1h-3.04zM1833.52 891h26.24v1h-26.24zM1834.63 892h3.31v1h-3.31zM1839.60 892h6.35v1h-6.35zM1848.17 892h10.22v1h-10.22zM1832.14 893h2.76v1h-2.76zM1836.29 893h2.76v1h-2.76zM1840.43 893h4.14v1h-4.14zM1847.34 893h4.97v1h-4.97zM1855.62 893h4.97v1h-4.97zM1831.87 894h3.04v1h-3.04zM1835.73 894h2.76v1h-2.76zM1841.81 894h1.66v1h-1.66zM1845.13 894h2.21v1h-2.21zM1848.99 894h2.76v1h-2.76zM1854.24 894h3.59v1h-3.59zM1858.94 894h1.66v1h-1.66zM1836.01 895h1.66v1h-1.66zM1839.05 895h1.38v1h-1.38zM1842.92 895h1.66v1h-1.66zM1849.55 895h2.76v1h-2.76zM1855.62 895h2.21v1h-2.21zM1858.94 895h1.10v1h-1.10zM1834.08 896h3.31v1h-3.31zM1839.33 896h1.66v1h-1.66zM1843.47 896h2.21v1h-2.21zM1847.34 896h2.21v1h-2.21zM1851.48 896h2.76v1h-2.76zM1855.62 896h4.14v1h-4.14zM1834.35 897h2.49v1h-2.49zM1839.05 897h2.76v1h-2.76zM1843.47 897h6.63v1h-6.63zM1852.03 897h2.21v1h-2.21zM1856.18 897h3.31v1h-3.31zM1835.18 898h1.93v1h-1.93zM1842.92 898h7.73v1h-7.73zM1855.62 898h2.21v1h-2.21zM1835.73 899h1.93v1h-1.93zM1843.47 899h6.63v1h-6.63zM1855.35 899h2.49v1h-2.49zM1834.91 900h1.93v1h-1.93zM1844.57 900h4.42v1h-4.42zM1855.62 900h1.66v1h-1.66zM1835.18 901h1.10v1h-1.10zM1838.22 901h2.49v1h-2.49zM1842.92 901h1.10v1h-1.10zM1849.82 901h2.49v1h-2.49zM1855.62 901h1.10v1h-1.10zM1838.77 902h1.10v1h-1.10zM1843.19 902h0.83v1h-0.83zM1847.34 902h1.66v1h-1.66zM1850.10 902h1.66v1h-1.66zM1853.97 902h1.10v1h-1.10zM1845.96 903h2.49v1h-2.49z" fill="#1010ff"/></g></svg></body></html>
